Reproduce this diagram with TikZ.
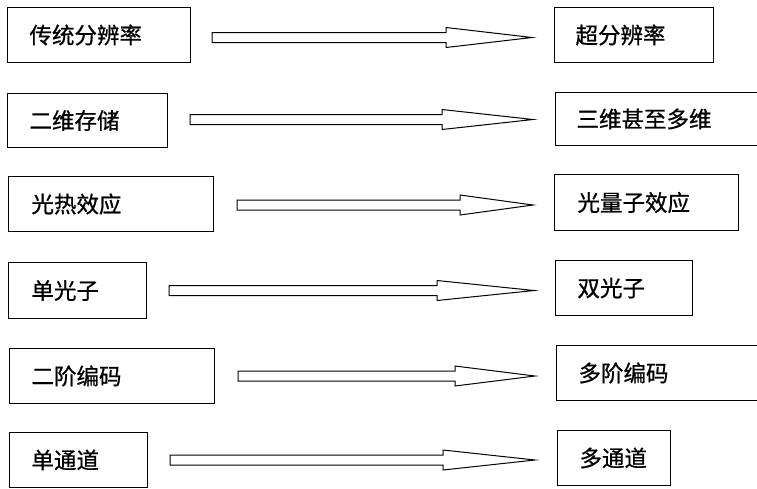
\documentclass[tikz,border=0pt]{standalone}
\usepackage{fontspec}
\setmainfont{Noto Sans CJK SC}[FakeBold=0.8]
\usetikzlibrary{calc}
\tikzset{
  box/.style={draw=black, line width=1pt, fill=white, anchor=north west,
    inner xsep=0pt, inner ysep=0pt, font=\fontsize{22.5}{25}\selectfont},
  fat/.style={draw=black, line width=1pt, fill=white, line join=miter},
}
% #1 name, #2 x, #3 y, #4 w, #5 h, #6 text offset, #7 text
\newcommand{\mybox}[7]{%
  \node[box, minimum width=#4pt, minimum height=#5pt, text width=#4pt, align=left] (#1) at (#2,#3)
    {\hspace*{#6pt}#7};}
% #1 start coord, #2 tip coord, #3 head length
\newcommand{\fatarrow}[3]{%
  \draw[fat] let \p1=(#1), \p2=(#2) in
    (\x1,\y1+5pt) -- (\x2-#3pt,\y1+5pt) -- (\x2-#3pt,\y1+10pt) -- (\x2,\y1)
    -- (\x2-#3pt,\y1-10pt) -- (\x2-#3pt,\y1-5pt) -- (\x1,\y1-5pt) -- cycle;}
\begin{document}
\begin{tikzpicture}[x=1pt,y=-1pt]
\clip (0,0) rectangle (757,488);
\fill[white] (0,0) rectangle (757,488);
% left boxes
\mybox{l1}{7}{7}{183}{55}{22}{传统分辨率}
\mybox{l2}{7}{93}{160}{54}{22}{二维存储}
\mybox{l3}{8}{176}{205}{55}{23}{光热效应}
\mybox{l4}{8}{262}{138}{56}{23}{单光子}
\mybox{l5}{9}{348}{205}{55}{22}{二阶编码}
\mybox{l6}{9}{432}{138}{55}{22}{单通道}
% right boxes
\mybox{r1}{554}{7}{159}{55}{21}{超分辨率}
\mybox{r2}{555}{92}{210}{53}{21}{三维甚至多维}
\mybox{r3}{554}{174}{184}{56}{23}{光量子效应}
\mybox{r4}{555}{260}{137}{55}{22}{双光子}
\mybox{r5}{556}{345}{210}{55}{22}{多阶编码}
\mybox{r6}{557}{430}{113}{55}{22}{多通道}
% arrow ends
\coordinate (s1) at ($(l1.east)+(21,2.5)$);
\coordinate (t1) at ($(r1.west)+(-22,0)$);
\coordinate (s2) at ($(l2.east)+(22,-1)$);
\coordinate (t2) at ($(r2.west)+(-22,0)$);
\coordinate (s3) at ($(l3.east)+(23,1)$);
\coordinate (t3) at ($(r3.west)+(-21,0)$);
\coordinate (s4) at ($(l4.east)+(22,0)$);
\coordinate (t4) at ($(r4.west)+(-21,0)$);
\coordinate (s5) at ($(l5.east)+(23,0)$);
\coordinate (t5) at ($(r5.west)+(-21,0)$);
\coordinate (s6) at ($(l6.east)+(22,0)$);
\coordinate (t6) at ($(r6.west)+(-22,0)$);
\fatarrow{s1}{t1}{86}
\fatarrow{s2}{t2}{91}
\fatarrow{s3}{t3}{73}
\fatarrow{s4}{t4}{97}
\fatarrow{s5}{t5}{80}
\fatarrow{s6}{t6}{92}
\end{tikzpicture}
\end{document}
